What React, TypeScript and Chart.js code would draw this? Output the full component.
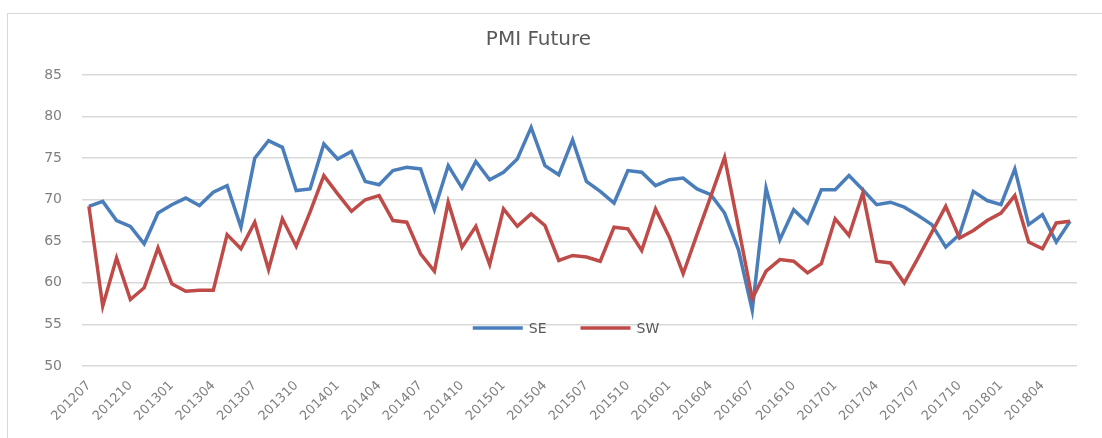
import React, { useEffect, useRef } from "react";
import { Chart, registerables } from "chart.js";

Chart.register(...registerables);

const categories = [
  "201207", "201208", "201209", "201210", "201211", "201212",
  "201301", "201302", "201303", "201304", "201305", "201306",
  "201307", "201308", "201309", "201310", "201311", "201312",
  "201401", "201402", "201403", "201404", "201405", "201406",
  "201407", "201408", "201409", "201410", "201411", "201412",
  "201501", "201502", "201503", "201504", "201505", "201506",
  "201507", "201508", "201509", "201510", "201511", "201512",
  "201601", "201602", "201603", "201604", "201605", "201606",
  "201607", "201608", "201609", "201610", "201611", "201612",
  "201701", "201702", "201703", "201704", "201705", "201706",
  "201707", "201708", "201709", "201710", "201711", "201712",
  "201801", "201802", "201803", "201804", "201805", "201806",
];

const shownTickLabels = [
  "201207", "201210", "201301", "201304", "201307", "201310",
  "201401", "201404", "201407", "201410", "201501", "201504",
  "201507", "201510", "201601", "201604", "201607", "201610",
  "201701", "201704", "201707", "201710", "201801", "201804",
];

const seValues = [
  69.2, 69.8, 67.5, 66.8, 64.7, 68.4, 69.4, 70.2, 69.3, 70.9, 71.7, 66.7,
  75.0, 77.1, 76.3, 71.1, 71.3, 76.7, 74.9, 75.8, 72.2, 71.8, 73.5, 73.9,
  73.7, 68.8, 74.1, 71.4, 74.6, 72.4, 73.3, 74.9, 78.7, 74.1, 73.0, 77.2,
  72.2, 71.0, 69.6, 73.5, 73.3, 71.7, 72.4, 72.6, 71.3, 70.6, 68.4, 64.0,
  56.7, 71.4, 65.2, 68.8, 67.2, 71.2, 71.2, 72.9, 71.2, 69.4, 69.7, 69.1,
  68.1, 67.0, 64.3, 65.8, 71.0, 69.9, 69.4, 73.7, 67.0, 68.2, 64.9, 67.4,
];

const swValues = [
  69.2, 57.2, 63.0, 58.0, 59.4, 64.2, 59.9, 59.0, 59.1, 59.1, 65.8, 64.1,
  67.3, 61.6, 67.7, 64.4, 68.5, 72.9, 70.7, 68.6, 70.0, 70.5, 67.5, 67.3,
  63.5, 61.4, 69.7, 64.3, 66.8, 62.2, 68.9, 66.8, 68.3, 66.9, 62.7, 63.3,
  63.1, 62.6, 66.7, 66.5, 63.9, 68.9, 65.5, 61.1, 65.8, 70.4, 75.1, 66.7,
  58.1, 61.4, 62.8, 62.6, 61.2, 62.3, 67.7, 65.7, 70.8, 62.6, 62.4, 60.0,
  63.0, 66.1, 69.2, 65.4, 66.3, 67.5, 68.4, 70.5, 64.9, 64.1, 67.2, 67.4,
];

const seriesNames = ["SE", "SW"];
const seriesColors = ["#4a7ebb", "#be4b48"];

const FONT = "'DejaVu Sans', 'Liberation Sans', sans-serif";

const overlayLegend = {
  id: "overlayLegend",
  afterDatasetsDraw(chart: any) {
    const opts = chart.options.plugins.overlayLegend || {};
    const ctx = chart.ctx;
    const datasets = chart.data.datasets;
    const sample = opts.sampleWidth ?? 50;
    const gap = opts.textGap ?? 6;
    const itemGap = opts.itemGap ?? 34;
    ctx.save();
    ctx.font = `${opts.fontSize ?? 14}px ${FONT}`;
    const widths = datasets.map((d: any) => sample + gap + ctx.measureText(d.label).width);
    const total = widths.reduce((a: number, b: number) => a + b, 0) + itemGap * (datasets.length - 1);
    let x = (opts.centerX ?? chart.width / 2) - total / 2;
    const y = opts.y ?? 328;
    datasets.forEach((d: any, i: number) => {
      ctx.strokeStyle = d.borderColor;
      ctx.lineWidth = d.borderWidth;
      ctx.lineCap = "butt";
      ctx.beginPath();
      ctx.moveTo(x, y);
      ctx.lineTo(x + sample, y);
      ctx.stroke();
      ctx.fillStyle = opts.color ?? "#595959";
      ctx.textBaseline = "middle";
      ctx.textAlign = "left";
      ctx.fillText(d.label, x + sample + gap, y + 1);
      x += widths[i] + itemGap;
    });
    ctx.restore();
  },
};

export default function App() {
  const ref = useRef<HTMLCanvasElement>(null);

  useEffect(() => {
    if (!ref.current) return;
    const chart = new Chart(ref.current, {
      type: "line",
      data: {
        labels: categories,
        datasets: [
          {
            label: seriesNames[0],
            data: seValues,
            borderColor: seriesColors[0],
            backgroundColor: seriesColors[0],
            borderWidth: 3.5,
            pointRadius: 0,
            tension: 0,
            fill: false,
            order: 1,
          },
          {
            label: seriesNames[1],
            data: swValues,
            borderColor: seriesColors[1],
            backgroundColor: seriesColors[1],
            borderWidth: 3.5,
            pointRadius: 0,
            tension: 0,
            fill: false,
            order: 0,
          },
        ],
      },
      options: {
        animation: false,
        responsive: false,
        maintainAspectRatio: false,
        layout: { padding: { left: 0, right: 25, top: 0, bottom: 0 } },
        plugins: {
          legend: { display: false },
          tooltip: { enabled: false },
          title: {
            display: true,
            text: "PMI Future",
            color: "#595959",
            font: { family: FONT, size: 20, weight: "normal", lineHeight: 1.2 },
            padding: { top: 28, bottom: 23 },
          },
          overlayLegend: { centerX: 566, y: 328, fontSize: 14, color: "#595959" },
        } as any,
        scales: {
          x: {
            offset: true,
            grid: { display: false },
            border: { display: false },
            ticks: {
              autoSkip: false,
              minRotation: 45,
              maxRotation: 45,
              padding: 4,
              color: "#7f7f7f",
              font: { family: FONT, size: 13 },
              callback(this: any, value: any) {
                const l = this.getLabelForValue(value);
                return shownTickLabels.includes(l) ? l : "";
              },
            },
            afterFit(scale: any) {
              scale.height = 72;
            },
          },
          y: {
            min: 50,
            max: 85,
            grid: { color: "#d9d9d9", lineWidth: 1.5, drawTicks: false },
            border: { display: false },
            ticks: {
              stepSize: 5,
              padding: 20,
              color: "#7f7f7f",
              font: { family: FONT, size: 14 },
            },
            afterFit(scale: any) {
              scale.width = 82;
            },
          },
        },
      },
      plugins: [overlayLegend],
    });
    return () => chart.destroy();
  }, []);

  return (
    <div
      style={{
        position: "fixed",
        left: 0,
        top: 0,
        width: 1102,
        height: 438,
        overflow: "hidden",
        background: "#ffffff",
      }}
    >
      <div
        style={{
          position: "absolute",
          left: 7,
          top: 13,
          width: 1130,
          height: 460,
          border: "1px solid #d9d9d9",
          boxSizing: "border-box",
        }}
      />
      <canvas
        ref={ref}
        width={1102}
        height={438}
        style={{ position: "absolute", left: 0, top: 0, width: 1102, height: 438 }}
      />
    </div>
  );
}
